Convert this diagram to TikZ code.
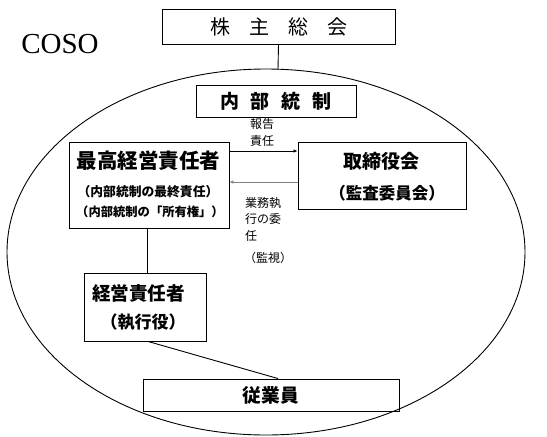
\documentclass[tikz,border=0pt]{standalone}
\usepackage{fontspec}
\setmainfont{Liberation Serif}
\newfontfamily\cjk{Noto Sans CJK JP}
\usetikzlibrary{arrows.meta}
\tikzset{
  box/.style={draw, line width=0.9pt, inner sep=0pt},
  lbl/.style={inner sep=0pt, font=\cjk\fontsize{12}{16.5}\selectfont},
  conn/.style={line width=0.9pt},
  arr/.style={line width=0.9pt, -{Latex[length=4pt,width=3.5pt]}}
}
\begin{document}
\begin{tikzpicture}[x=1pt,y=-1pt]
\useasboundingbox (0,0) rectangle (547,437);
% COSO title
\node[inner sep=0pt, font=\fontsize{29}{32}\selectfont] (coso) at (60,44) {COSO};
% shareholders meeting
\node[box, minimum width=233pt, minimum height=35pt, font=\cjk\fontsize{20}{22}\selectfont] (kabu) at (278.5,26.5) {株\hspace{19pt}主\hspace{19pt}総\hspace{19pt}会};
% ellipse
\draw[line width=0.9pt] (266,252) ellipse [x radius=259, y radius=183];
\coordinate (etop) at (278,69.5);
\draw[conn] (kabu.south) -- (etop);
% internal control
\node[box, minimum width=160pt, minimum height=32pt, font=\cjk\bfseries\fontsize{19}{21}\selectfont] (naibu) at (276,101) {内\hspace{12pt}部\hspace{12pt}統\hspace{12pt}制};
\node[lbl] (hokoku) at (262,124) {報告};
\node[lbl] (sekinin) at (262,141) {責任};
% CEO box
\node[box, minimum width=160pt, minimum height=86pt] (ceo) at (149,185) {};
\node[inner sep=0pt, font=\cjk\bfseries\fontsize{20.5}{22}\selectfont] (ceo1) at (148.5,161) {最高経営責任者};
\node[inner sep=0pt, font=\cjk\bfseries\fontsize{12.8}{14}\selectfont] (ceo2) at (148,192) {（内部統制の最終責任）};
\node[inner sep=0pt, font=\cjk\bfseries\fontsize{12.3}{14}\selectfont] (ceo3) at (150,212) {（内部統制の「所有権」）};
% board box
\node[box, minimum width=168pt, minimum height=67pt] (board) at (382,175.5) {};
\node[inner sep=0pt, font=\cjk\bfseries\fontsize{19}{21}\selectfont] (board1) at (381,161) {取締役会};
\node[inner sep=0pt, font=\cjk\bfseries\fontsize{16.5}{18}\selectfont] (board2) at (387,193) {（監査委員会）};
% arrows
\draw[arr] (ceo.east |- 0,151) -- (board.west |- 0,151);
\draw[arr, draw=gray, fill=black] (board.west |- 0,182) -- (ceo.east |- 0,182);
% delegation labels
\node[lbl, anchor=north west, align=left] (gyomu) at (245,197) {業務執\\行の委\\任};
\node[lbl, anchor=west] (kanshi) at (244,258) {（監視）};
% executive box
\node[box, minimum width=122pt, minimum height=68pt] (exec) at (145,307) {};
\node[inner sep=0pt, font=\cjk\bfseries\fontsize{18.6}{20}\selectfont] (exec1) at (138.5,293) {経営責任者};
\node[inner sep=0pt, font=\cjk\bfseries\fontsize{17}{19}\selectfont] (exec2) at (143,322) {（執行役）};
\draw[conn] (ceo.south -| 147,0) -- (exec.north -| 147,0);
% employees
\node[box, minimum width=256pt, minimum height=32pt, font=\cjk\bfseries\fontsize{18.7}{20}\selectfont] (emp) at (271,395) {従業員};
\draw[conn] (exec.south -| 148,0) -- (emp.north -| 278,0);
\end{tikzpicture}
\end{document}
